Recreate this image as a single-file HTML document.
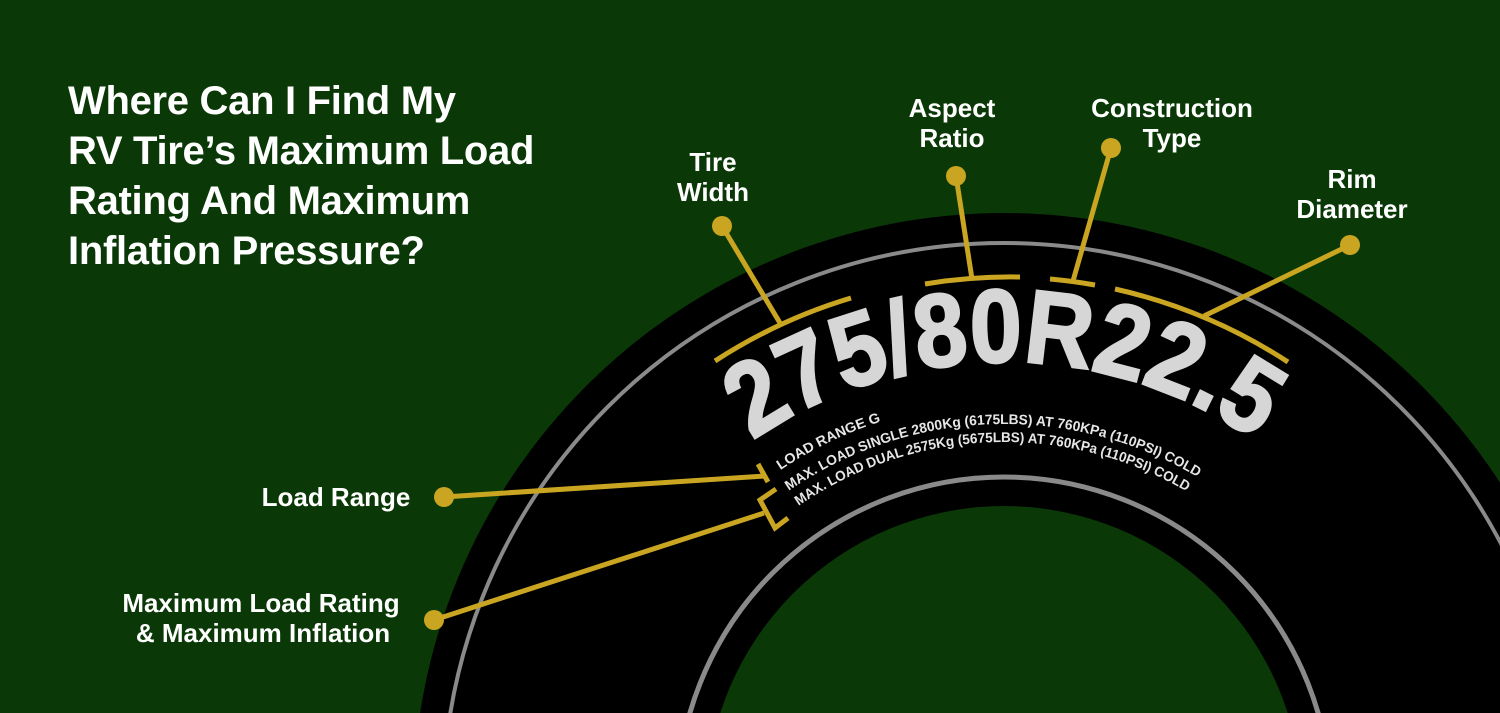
<!DOCTYPE html>
<html><head><meta charset="utf-8"><style>
html,body{margin:0;padding:0;background:#0a3806;overflow:hidden;width:1500px;height:713px;}
svg{display:block;}
</style></head><body>
<svg width="1500" height="713" viewBox="0 0 1500 713" xmlns="http://www.w3.org/2000/svg">
<defs>
<path id="p1" d="M 562 804 A 442 442 0 0 1 1446 804"/>
<path id="p2" d="M 602 804 A 402 402 0 0 1 1406 804"/>
<path id="p3" d="M 624 804 A 380 380 0 0 1 1384 804"/>
<path id="p4" d="M 642 804 A 362 362 0 0 1 1366 804"/>
</defs>
<rect width="1500" height="713" fill="#0a3806"/>
<circle cx="1004" cy="804" r="591" fill="#000"/>
<circle cx="1004" cy="804" r="561" fill="none" stroke="#8a8a8a" stroke-width="4"/>
<circle cx="1004" cy="804" r="327" fill="none" stroke="#8a8a8a" stroke-width="5"/>
<circle cx="1004" cy="804" r="298" fill="#0a3806"/>

<g font-family="Liberation Sans, sans-serif" font-weight="bold" fill="#d6d6d6">
<text font-size="104" stroke="#d6d6d6" stroke-width="2.5"><textPath href="#p1" startOffset="50%" text-anchor="middle" textLength="535" lengthAdjust="spacingAndGlyphs">275/80R22.5</textPath></text>
</g>
<g font-family="Liberation Sans, sans-serif" font-weight="bold" fill="#e6e6e6" font-size="14">
<text><textPath href="#p2" startOffset="394" textLength="112" lengthAdjust="spacingAndGlyphs">LOAD RANGE G</textPath></text>
<text><textPath href="#p3" startOffset="368" textLength="432" lengthAdjust="spacingAndGlyphs">MAX. LOAD SINGLE 2800Kg (6175LBS) AT 760KPa (110PSI) COLD</textPath></text>
<text><textPath href="#p4" startOffset="350" textLength="410" lengthAdjust="spacingAndGlyphs">MAX. LOAD DUAL 2575Kg (5675LBS) AT 760KPa (110PSI) COLD</textPath></text>
</g>

<g stroke="#c9a521" stroke-width="5" fill="none" stroke-linecap="butt">
<path d="M 715 361 A 528 528 0 0 1 851 298"/>
<line x1="722" y1="226" x2="780" y2="323"/>
<path d="M 925 284 A 528 528 0 0 1 1020 277"/>
<line x1="956" y1="176" x2="972" y2="279"/>
<path d="M 1050 279 A 528 528 0 0 1 1095 285"/>
<line x1="1111" y1="148" x2="1073" y2="281"/>
<path d="M 1115 289 A 528 528 0 0 1 1288 362"/>
<line x1="1350" y1="245" x2="1204" y2="316"/>
<line x1="444" y1="497" x2="765" y2="476"/>
<line x1="758" y1="464" x2="768" y2="482"/>
<line x1="434" y1="620" x2="764" y2="513"/>
<polyline points="776,489 760,500 775,528 788,518"/>
</g>
<g fill="#c9a521">
<circle cx="722" cy="226" r="10"/>
<circle cx="956" cy="176" r="10"/>
<circle cx="1111" cy="148" r="10"/>
<circle cx="1350" cy="245" r="10"/>
<circle cx="444" cy="497" r="10"/>
<circle cx="434" cy="620" r="10"/>
</g>

<g font-family="Liberation Sans, sans-serif" font-weight="bold" fill="#fff">
<g font-size="40" letter-spacing="-0.3">
<text x="68" y="114">Where Can I Find My</text>
<text x="68" y="164">RV Tire’s Maximum Load</text>
<text x="68" y="214">Rating And Maximum</text>
<text x="68" y="264">Inflation Pressure?</text>
</g>
<g font-size="26" text-anchor="middle">
<text x="713" y="171">Tire</text>
<text x="713" y="201">Width</text>
<text x="952" y="117">Aspect</text>
<text x="952" y="147">Ratio</text>
<text x="1172" y="117">Construction</text>
<text x="1172" y="147">Type</text>
<text x="1352" y="188">Rim</text>
<text x="1352" y="218">Diameter</text>
<text x="336" y="506">Load Range</text>
<text x="261" y="612">Maximum Load Rating</text>
<text x="263" y="642">&amp; Maximum Inflation</text>
</g>
</g>
</svg>
</body></html>
